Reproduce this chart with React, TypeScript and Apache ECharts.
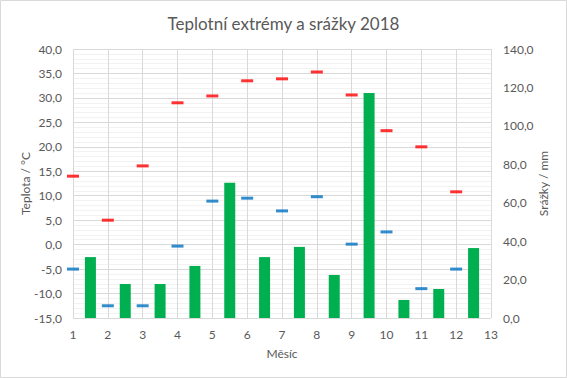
import React, { useEffect, useRef } from "react";
import * as echarts from "echarts";

const months = [1, 2, 3, 4, 5, 6, 7, 8, 9, 10, 11, 12];
const tempMax = [14.0, 5.0, 16.1, 29.0, 30.4, 33.5, 33.9, 35.3, 30.6, 23.3, 20.0, 10.8];
const tempMin = [-5.0, -12.5, -12.5, -0.3, 8.9, 9.5, 6.9, 9.8, 0.1, 2.6, -9.0, -5.0];
const precipitation = [31.7, 17.7, 17.7, 27.1, 70.4, 31.7, 37.0, 22.4, 117.1, 9.4, 15.1, 36.4];

const FONT = "Lato";
const TXT = "#595959";

export default function App() {
  const ref = useRef<HTMLDivElement>(null);
  useEffect(() => {
    document.body.style.margin = "0";
    const chart = echarts.init(ref.current!, null, { renderer: "svg" });
    chart.setOption({
      animation: false,
      backgroundColor: "#fff",
      textStyle: { fontFamily: FONT },
      title: {
        text: "Teplotní extrémy a srážky 2018",
        left: "center",
        top: 10,
        textStyle: { fontFamily: FONT, fontSize: 17, fontWeight: "normal", color: TXT },
      },
      graphic: [
        {
          type: "rect",
          shape: { x: 0.5, y: 0.5, width: 566, height: 377 },
          style: { fill: "none", stroke: "#d9d9d9", lineWidth: 1 },
          silent: true,
        },
      ],
      grid: { left: 73, right: 76, top: 49, bottom: 60, containLabel: false },
      xAxis: {
        type: "value",
        min: 1,
        max: 13,
        interval: 1,
        name: "Měsíc",
        nameLocation: "middle",
        nameGap: 29,
        nameMoveOverlap: false,
        nameTextStyle: { color: TXT, fontSize: 12, fontFamily: FONT },
        axisLine: { show: false },
        axisTick: { show: false },
        axisLabel: { color: TXT, fontSize: 12, margin: 10, fontFamily: FONT },
        splitLine: { show: true, lineStyle: { color: "#d9d9d9", width: 1 } },
      },
      yAxis: [
        {
          type: "value",
          min: -15,
          max: 40,
          interval: 5,
          name: "Teplota / °C",
          nameLocation: "middle",
          nameGap: 42,
          nameMoveOverlap: false,
          nameRotate: 90,
          nameTextStyle: { color: TXT, fontSize: 12, fontFamily: FONT },
          axisLine: { show: false },
          axisTick: { show: false },
          axisLabel: {
            color: TXT,
            fontSize: 12,
            margin: 11,
            fontFamily: FONT,
            formatter: (v: number) => v.toFixed(1).replace(".", ","),
          },
          splitLine: { show: true, lineStyle: { color: "#d9d9d9", width: 1 } },
          minorTick: { show: false, splitNumber: 5 },
          minorSplitLine: { show: true, lineStyle: { color: "#f2f2f2", width: 1 } },
        },
        {
          type: "value",
          min: 0,
          max: 140,
          interval: 20,
          position: "right",
          name: "Srážky / mm",
          nameLocation: "middle",
          nameGap: 46,
          nameMoveOverlap: false,
          nameRotate: 90,
          nameTextStyle: { color: TXT, fontSize: 12, fontFamily: FONT },
          axisLine: { show: false },
          axisTick: { show: false },
          axisLabel: {
            color: TXT,
            fontSize: 12,
            margin: 12,
            fontFamily: FONT,
            formatter: (v: number) => v.toFixed(1).replace(".", ","),
          },
          splitLine: { show: false },
        },
      ],
      series: [
        {
          name: "Srážky",
          type: "bar",
          yAxisIndex: 1,
          barWidth: 11,
          itemStyle: { color: "#00B050" },
          data: months.map((m, i) => [m + 0.5, precipitation[i]]),
          z: 2,
        },
        {
          name: "Max",
          type: "scatter",
          yAxisIndex: 0,
          symbol: "rect",
          symbolSize: [12, 3],
          itemStyle: { color: "#FF0000" },
          data: months.map((m, i) => [m, tempMax[i]]),
          z: 3,
        },
        {
          name: "Min",
          type: "scatter",
          yAxisIndex: 0,
          symbol: "rect",
          symbolSize: [12, 3],
          itemStyle: { color: "#0070C0" },
          data: months.map((m, i) => [m, tempMin[i]]),
          z: 3,
        },
      ],
    });
    return () => chart.dispose();
  }, []);
  return <div ref={ref} style={{ width: 567, height: 378 }} />;
}
